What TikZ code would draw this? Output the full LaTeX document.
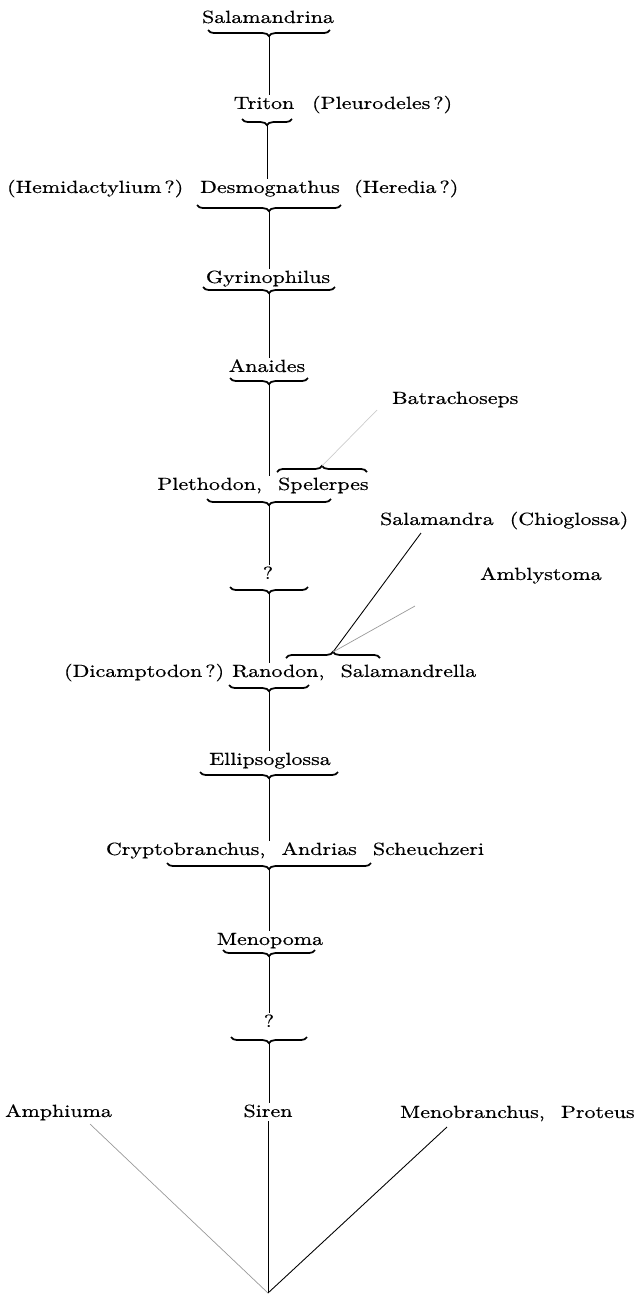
\documentclass[tikz,border=0pt]{standalone}
\usepackage{fontspec}
\setmainfont{lmroman10-regular.otf}[FakeStretch=1.25,WordSpace=2.2,FakeBold=0.5]
\usetikzlibrary{decorations.pathreplacing}

\begin{document}
\begin{tikzpicture}[x=0.02cm,y=-0.02cm,
    taxon/.style={inner sep=1pt,text height=1.6ex,text depth=.3ex},
    ubr/.style={decorate,decoration={brace,mirror,amplitude=3.5pt},line width=1pt},
    obr/.style={decorate,decoration={brace,amplitude=3.5pt},line width=1pt},
    stem/.style={line width=.5pt},
    faint/.style={line width=.4pt,black!40}]
  \useasboundingbox (0,0) rectangle (637,1295);

  \node[taxon] (salamandrina) at (268,18) {Salamandrina};
  \node[taxon] (triton) at (264,104) {Triton};
  \node[taxon,anchor=west] (pleurodeles) at (310,104) {(Pleurodeles\,?)};
  \node[taxon] (desmognathus) at (270,188) {Desmognathus};
  \node[taxon,anchor=west] (hemidactylium) at (5,188) {(Hemidactylium\,?)};
  \node[taxon,anchor=west] (heredia) at (352,188) {(Heredia\,?)};
  \node[taxon] (gyrinophilus) at (268,278) {Gyrinophilus};
  \node[taxon] (anaides) at (267,367) {Anaides};
  \node[taxon,anchor=west] (batrachoseps) at (390,399) {Batrachoseps};
  \node[taxon] (plethodon) at (263,485) {Plethodon, Spelerpes};
  \node[taxon,anchor=west] (salamandra) at (378,520) {Salamandra (Chioglossa)};
  \node[taxon] (q1) at (268,574) {?};
  \node[taxon,anchor=west] (amblystoma) at (478,575) {Amblystoma};
  \node[taxon,anchor=west] (dicamptodon) at (62,672) {(Dicamptodon\,?)};
  \node[taxon,anchor=west] (ranodon) at (230,672) {Ranodon, Salamandrella};
  \node[taxon] (ellipsoglossa) at (270,760) {Ellipsoglossa};
  \node[taxon] (cryptobranchus) at (295,850) {Cryptobranchus, Andrias Scheuchzeri};
  \node[taxon] (menopoma) at (270,940) {Menopoma};
  \node[taxon] (q2) at (269,1022) {?};
  \node[taxon] (siren) at (268,1112) {Siren};
  \node[taxon,anchor=west] (amphiuma) at (3,1112) {Amphiuma};
  \node[taxon,anchor=west] (menobranchus) at (398,1113) {Menobranchus, Proteus};

  \draw[ubr] (208,30) -- (330,30);
  \coordinate (salamandrina-tip) at (269,36);
  \draw[ubr] (242,119) -- (292,119);
  \coordinate (triton-tip) at (267,125);
  \draw[ubr] (197,205) -- (341,205);
  \coordinate (desmognathus-tip) at (269,211);
  \draw[ubr] (203,287) -- (335,287);
  \coordinate (gyrinophilus-tip) at (269,293);
  \draw[ubr] (230,378) -- (308,378);
  \coordinate (anaides-tip) at (269,384);
  \draw[ubr] (207,499) -- (331,499);
  \coordinate (plethodon-tip) at (269,505);
  \draw[obr] (277,472) -- (367,472);
  \coordinate (spelerpes-tip) at (322,466);
  \draw[ubr] (230,587) -- (308,587);
  \coordinate (q1-tip) at (269,593);
  \draw[ubr] (229,685) -- (309,685);
  \coordinate (ranodon-tip) at (269,691);
  \draw[obr] (286,658) -- (380,658);
  \coordinate (salamandrella-tip) at (333,652);
  \draw[ubr] (200,772) -- (338,772);
  \coordinate (ellipsoglossa-tip) at (269,778);
  \draw[ubr] (167,863) -- (371,863);
  \coordinate (cryptobranchus-tip) at (269,869);
  \draw[ubr] (223,950) -- (315,950);
  \coordinate (menopoma-tip) at (269,956);
  \draw[ubr] (231,1037) -- (307,1037);
  \coordinate (q2-tip) at (269,1043);

  \draw[stem] (salamandrina-tip) -- (salamandrina-tip |- triton.north);
  \draw[stem] (triton-tip) -- (triton-tip |- desmognathus.north);
  \draw[stem] (desmognathus-tip) -- (desmognathus-tip |- gyrinophilus.north);
  \draw[stem] (gyrinophilus-tip) -- (gyrinophilus-tip |- anaides.north);
  \draw[stem] (anaides-tip) -- (anaides-tip |- plethodon.north);
  \draw[stem] (plethodon-tip) -- (plethodon-tip |- q1.north);
  \draw[stem] (q1-tip) -- (q1-tip |- ranodon.north);
  \draw[stem] (ranodon-tip) -- (ranodon-tip |- ellipsoglossa.north);
  \draw[stem] (ellipsoglossa-tip) -- (ellipsoglossa-tip |- cryptobranchus.north);
  \draw[stem] (cryptobranchus-tip) -- (cryptobranchus-tip |- menopoma.north);
  \draw[stem] (menopoma-tip) -- (menopoma-tip |- q2.north);
  \draw[stem] (q2-tip) -- (q2-tip |- siren.north);

  \coordinate (root) at (268,1293);
  \coordinate (batrachoseps-foot) at (377,410);
  \coordinate (salamandra-foot) at (421,533);
  \coordinate (amblystoma-foot) at (415,606);
  \coordinate (amphiuma-foot) at (90,1124);
  \coordinate (menobranchus-foot) at (447,1127);
  \draw[faint,black!20] (batrachoseps-foot) -- (spelerpes-tip);
  \draw[stem] (salamandra-foot) -- (salamandrella-tip);
  \draw[faint] (amblystoma-foot) -- (salamandrella-tip);
  \draw[stem] (siren.south) -- (root);
  \draw[faint] (amphiuma-foot) -- (root);
  \draw[stem] (menobranchus-foot) -- (root);
\end{tikzpicture}
\end{document}
